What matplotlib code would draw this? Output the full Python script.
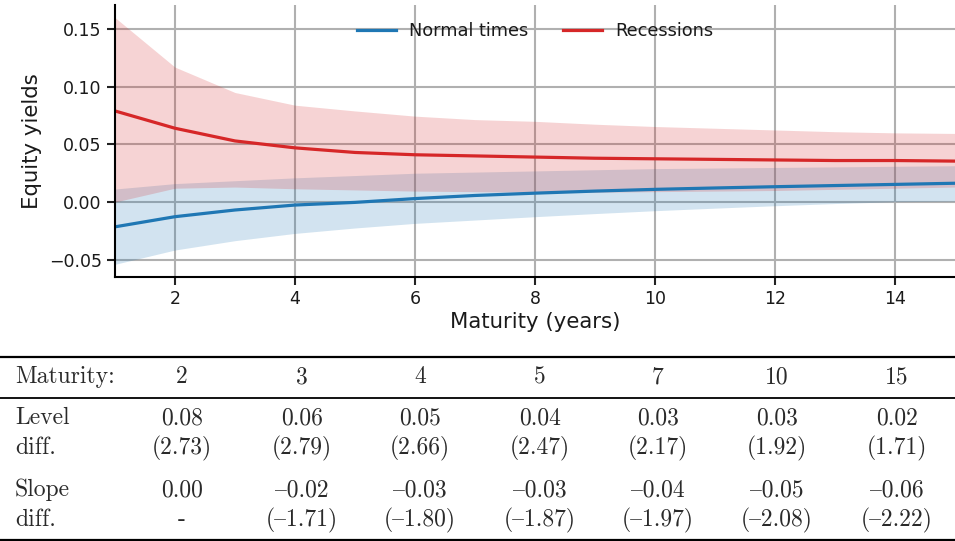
import matplotlib
matplotlib.use("Agg")
import matplotlib.pyplot as plt
from matplotlib.lines import Line2D
import numpy as np

# ---- data ----
maturity = list(range(1, 16))
rec_mean = [0.079, 0.064, 0.053, 0.047, 0.043, 0.041, 0.040, 0.039, 0.038, 0.0375, 0.037, 0.0365, 0.036, 0.036, 0.0355]
rec_upper = [0.160, 0.117, 0.095, 0.084, 0.079, 0.0745, 0.0715, 0.070, 0.0675, 0.0655, 0.064, 0.0625, 0.061, 0.060, 0.0595]
rec_lower = [0.000, 0.012, 0.013, 0.0115, 0.0105, 0.0095, 0.009, 0.0085, 0.0085, 0.009, 0.0095, 0.010, 0.011, 0.012, 0.013]
norm_mean = [-0.0215, -0.0127, -0.0069, -0.0026, -0.0003, 0.0030, 0.0057, 0.0077, 0.0095, 0.011, 0.0122, 0.0133, 0.0143, 0.0153, 0.0163]
norm_upper = [0.0113, 0.016, 0.0185, 0.021, 0.023, 0.025, 0.026, 0.027, 0.028, 0.029, 0.0295, 0.030, 0.0305, 0.031, 0.0315]
norm_lower = [-0.054, -0.0416, -0.0335, -0.0272, -0.0225, -0.0185, -0.0156, -0.0127, -0.010, -0.0075, -0.0053, -0.0032, -0.0013, 0.0003, 0.0008]

table_maturities = [2, 3, 4, 5, 7, 10, 15]
level_diff = [0.08, 0.06, 0.05, 0.04, 0.03, 0.03, 0.02]
level_t = [2.73, 2.79, 2.66, 2.47, 2.17, 1.92, 1.71]
slope_diff = [0.00, -0.02, -0.03, -0.03, -0.04, -0.05, -0.06]
slope_t = [None, -1.71, -1.80, -1.87, -1.97, -2.08, -2.22]

BLUE = "#1f77b4"
RED = "#d62728"

fig = plt.figure(figsize=(9.55, 5.41), dpi=100)
ax = fig.add_axes([0.1204, 0.488, 0.8796, 0.503])

ax.fill_between(maturity, norm_lower, norm_upper, color=BLUE, alpha=0.2, linewidth=0)
ax.fill_between(maturity, rec_lower, rec_upper, color=RED, alpha=0.2, linewidth=0)
ax.plot(maturity, norm_mean, color=BLUE, lw=2.3, label="Normal times")
ax.plot(maturity, rec_mean, color=RED, lw=2.3, label="Recessions")

ax.set_xlim(1, 15)
ax.set_ylim(-0.065, 0.171)
ax.set_xticks([2, 4, 6, 8, 10, 12, 14])
ax.set_yticks([-0.05, 0.0, 0.05, 0.10, 0.15])
ax.set_yticklabels(["\u22120.05", "0.00", "0.05", "0.10", "0.15"])
ax.grid(True, color="#b0b0b0", lw=1.5)
ax.set_axisbelow(True)
for s in ["top", "right"]:
    ax.spines[s].set_visible(False)
for s in ["left", "bottom"]:
    ax.spines[s].set_linewidth(1.5)
ax.tick_params(labelsize=12.5, width=1.5, length=6, color="#222222", labelcolor="#1a1a1a")
ax.set_xlabel("Maturity (years)", fontsize=15.3, labelpad=3, color="#1a1a1a")
ax.set_ylabel("Equity yields", fontsize=15.3, labelpad=5, color="#1a1a1a")
ax.legend(loc="upper center", ncol=2, frameon=False, fontsize=12.8,
          bbox_to_anchor=(0.5, 0.995), columnspacing=1.95, handlelength=2.2,
          handletextpad=0.75, labelcolor="#1a1a1a")

# ---- table ----
def fmt(v):
    s = f"{v:.2f}"
    return s.replace("-", "{")  # '{' is the en dash in cmr10

def fmt_t(v):
    if v is None:
        return "-"
    return "(" + fmt(v) + ")"

W, H = 955.0, 541.0
def fy(ypix):
    return 1 - ypix / H

col_x = [182, 302, 420, 540, 658, 777, 897]
tfont = dict(family="cmr10", fontsize=17, color="#2a2a2a")

for yp, lw in [(356.5, 1.6), (397.5, 1.3), (539.5, 1.6)]:
    fig.add_artist(Line2D([0, 1], [fy(yp), fy(yp)], color="black", lw=lw,
                          transform=fig.transFigure))

fig.text(15 / W, fy(377), "Maturity:", ha="left", va="center", **tfont)
fig.text(15 / W, fy(418), "Level", ha="left", va="center", **tfont)
fig.text(15 / W, fy(448), "diff.", ha="left", va="center", **tfont)
fig.text(15 / W, fy(490), "Slope", ha="left", va="center", **tfont)
fig.text(15 / W, fy(520), "diff.", ha="left", va="center", **tfont)

for i, x in enumerate(col_x):
    fig.text(x / W, fy(377), str(table_maturities[i]), ha="center", va="center", **tfont)
    fig.text(x / W, fy(418), fmt(level_diff[i]), ha="center", va="center", **tfont)
    fig.text(x / W, fy(448), fmt_t(level_t[i]), ha="center", va="center", **tfont)
    fig.text(x / W, fy(490), fmt(slope_diff[i]), ha="center", va="center", **tfont)
    fig.text(x / W, fy(520), fmt_t(slope_t[i]), ha="center", va="center", **tfont)

fig.savefig("out.png", dpi=100)
